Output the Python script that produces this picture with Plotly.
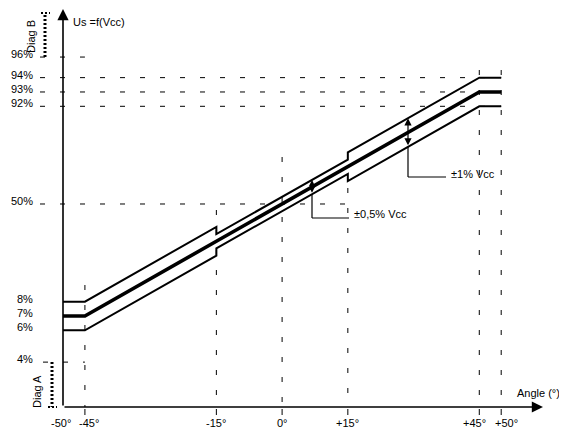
import numpy as np
import plotly.graph_objects as go

# ---------------- data ----------------
ANGLES = [-50, -45, -15, 15, 45, 50]          # breakpoints of the characteristic (deg)
CENTER = [7, 7, 35.7, 64.3, 93, 93]           # Us centre value (% Vcc) at breakpoints
TOL_OUTER = 1.0                               # ±1 % Vcc   (|angle| > 15°)
TOL_INNER = 0.5                               # ±0.5 % Vcc (|angle| <= 15°)

X_TICK_VALS = [-50, -45, -15, 0, 15, 45, 50]
X_TICK_TEXT = ["-50°", "-45°", "-15°", "0°", "+15°", "+45°", "+50°"]

Y_LEVEL_TEXT = ["4%", "6%", "7%", "8%", "50%", "92%", "93%", "94%", "96%"]
# where each level sits on the (schematic, not to scale) vertical axis
Y_LEVEL_POS = [-10.7, 1.5, 7, 12.5, 50, 87.5, 93, 98.5, 106.4]

# ---------------- drawing scale / style ----------------
TOL_SCALE = 5.5          # schematic exaggeration of the tolerance band
OFF = 8                  # default page (body) margin before the figure
W, H = 567 - OFF, 434 - OFF
# plot area, in page pixels
P_LEFT, P_RIGHT, P_TOP, P_BOTTOM = 40, 558, 8, 416
ML, MR, MT, MB = P_LEFT - OFF, (W + OFF) - P_RIGHT, P_TOP - OFF, (H + OFF) - P_BOTTOM
X0_PX, X_PX_PER_DEG = 282.1, 4.382
Y7_PX, Y_PX_PER_U = 316.0, 2.605
FONT = "Liberation Sans"
FS = 11
BLACK = "#000000"
DASH = "5px,15px"
PW, PH = P_RIGHT - P_LEFT, P_BOTTOM - P_TOP
X_LABEL_SHIFT = [-2, 4, 0, 0, 0, -5, 5]   # small label nudges to keep neighbours apart


def deg_at(px):
    return (px - X0_PX) / X_PX_PER_DEG


def u_at(py):
    return 7 + (Y7_PX - py) / Y_PX_PER_U


def py_of(u):
    return Y7_PX - (u - 7) * Y_PX_PER_U


def paper_x(px):
    return (px - P_LEFT) / PW


def paper_y(py):
    return (P_BOTTOM - py) / PH


XR = [deg_at(P_LEFT), deg_at(P_RIGHT)]
YR = [u_at(P_BOTTOM), u_at(P_TOP)]
U_AXIS = u_at(407)


def center_at(a):
    return float(np.interp(a, ANGLES, CENTER))


def tol_at(a):
    return TOL_INNER if abs(a) <= 15 else TOL_OUTER


def band(sign):
    xs, ys = [], []
    for a, c in zip(ANGLES, CENTER):
        if abs(a) == 15:
            first, second = (TOL_OUTER, TOL_INNER) if a < 0 else (TOL_INNER, TOL_OUTER)
            xs += [a, a]
            ys += [c + sign * first * TOL_SCALE, c + sign * second * TOL_SCALE]
        else:
            xs.append(a)
            ys.append(c + sign * TOL_OUTER * TOL_SCALE)
    return xs, ys


fig = go.Figure()

ux, uy = band(+1)
lx, ly = band(-1)
fig.add_trace(go.Scatter(x=ux, y=uy, mode="lines", line=dict(color=BLACK, width=2),
                         name="Us max", hoverinfo="skip"))
fig.add_trace(go.Scatter(x=ANGLES, y=CENTER, mode="lines", line=dict(color=BLACK, width=3.6),
                         name="Us", hoverinfo="skip"))
fig.add_trace(go.Scatter(x=lx, y=ly, mode="lines", line=dict(color=BLACK, width=2),
                         name="Us min", hoverinfo="skip"))

shapes = []


def dline(x0, y0, x1, y1, dash=DASH, width=1):
    shapes.append(dict(type="line", xref="x", yref="y", x0=x0, y0=y0, x1=x1, y1=y1,
                       line=dict(color=BLACK, width=width, dash=dash), layer="below"))


lvl = dict(zip(Y_LEVEL_TEXT, Y_LEVEL_POS))
# horizontal dashed reference lines
dline(XR[0], lvl["96%"], -45, lvl["96%"])
for k in ["94%", "93%", "92%"]:
    dline(XR[0], lvl[k], 50, lvl[k])
dline(XR[0], lvl["50%"], 15, lvl["50%"])
dline(deg_at(43), lvl["4%"], -45, lvl["4%"])

# vertical dashed reference lines (top ends)
V_TOP = {-45: u_at(285), -15: u_at(210), 0: u_at(157), 15: u_at(188), 45: u_at(70), 50: u_at(70)}
for a, top in V_TOP.items():
    dline(a, top, a, U_AXIS)
    dline(a, u_at(409), a, u_at(415), dash="solid")

# Diag zones (dotted)
xb = deg_at(45)
dline(xb, lvl["96%"], xb, u_at(13), dash="2px,2px", width=3)
dline(deg_at(41), u_at(13), deg_at(50), u_at(13), dash="2px,2px", width=2)
xa = deg_at(52)
dline(xa, lvl["4%"], xa, U_AXIS, dash="2px,2px", width=3)
dline(deg_at(48), U_AXIS, deg_at(57), U_AXIS, dash="2px,2px", width=2)

# leader lines for tolerance labels
A1 = deg_at(408)
low1 = center_at(A1) - tol_at(A1) * TOL_SCALE
up1 = center_at(A1) + tol_at(A1) * TOL_SCALE
dline(A1, low1, A1, u_at(177), dash="solid", width=1.2)
dline(A1, u_at(177), deg_at(446), u_at(177), dash="solid", width=1.2)

A2 = deg_at(312)
low2 = center_at(A2) - tol_at(A2) * TOL_SCALE
up2 = center_at(A2) + tol_at(A2) * TOL_SCALE
dline(A2, low2, A2, u_at(218), dash="solid", width=1.2)
dline(A2, u_at(218), deg_at(349), u_at(218), dash="solid", width=1.2)

annotations = []


def arrow(x0, y0, x1, y1, side="end", size=1.3, width=1.5):
    annotations.append(dict(x=x1, y=y1, ax=x0, ay=y0, xref="x", yref="y", axref="x", ayref="y",
                            text="", showarrow=True, arrowhead=2, arrowsize=size,
                            arrowwidth=width, arrowcolor=BLACK, arrowside=side,
                            standoff=0, startstandoff=0))


def ptext(px, py, s, xanchor="left", angle=0, size=FS):
    annotations.append(dict(x=paper_x(px), y=paper_y(py), xref="paper", yref="paper", text=s,
                            showarrow=False, xanchor=xanchor, yanchor="middle", textangle=angle,
                            font=dict(family=FONT, size=size, color=BLACK)))


# axes with arrow heads
arrow(-50, U_AXIS, deg_at(543), U_AXIS, size=1.4, width=1.6)
arrow(-50, U_AXIS, -50, u_at(9), size=1.4, width=1.6)

# tolerance double arrows
arrow(A1, low1, A1, up1, side="end+start", size=1.2, width=1.2)
arrow(A2, low2, A2, up2, side="end+start", size=1.0, width=1.2)

# tick labels (x: under the axis, y: left of the axis)
for v, s, sh in zip(X_TICK_VALS, X_TICK_TEXT, X_LABEL_SHIFT):
    annotations.append(dict(x=v, xref="x", y=paper_y(423), yref="paper", text=s,
                            showarrow=False, xanchor="center", yanchor="middle", xshift=sh,
                            font=dict(family=FONT, size=FS, color=BLACK)))
for v, s in zip(Y_LEVEL_POS, Y_LEVEL_TEXT):
    ptext(35, py_of(v) - 3, s, xanchor="right")

ptext(71, 22, "Us =f(Vcc)")
ptext(562, 393, "Angle (°)", xanchor="right")
ptext(449, 174, "±1% Vcc")
ptext(352, 214, "±0,5% Vcc")
ptext(31, 37, "Diag B", xanchor="center", angle=-90)
ptext(37, 392, "Diag A", xanchor="center", angle=-90)

fig.update_layout(
    width=W, height=H, autosize=False,
    margin=dict(l=ML, r=MR, t=MT, b=MB, pad=0, autoexpand=False),
    paper_bgcolor="white", plot_bgcolor="white",
    showlegend=False,
    shapes=shapes, annotations=annotations,
    font=dict(family=FONT, size=FS, color=BLACK),
    xaxis=dict(range=XR, showticklabels=False, showgrid=False, automargin=False,
               zeroline=False, showline=False, ticks="", fixedrange=True),
    yaxis=dict(range=YR, showticklabels=False, showgrid=False, automargin=False,
               zeroline=False, showline=False, ticks="", fixedrange=True),
)

fig.write_html("out.html")
